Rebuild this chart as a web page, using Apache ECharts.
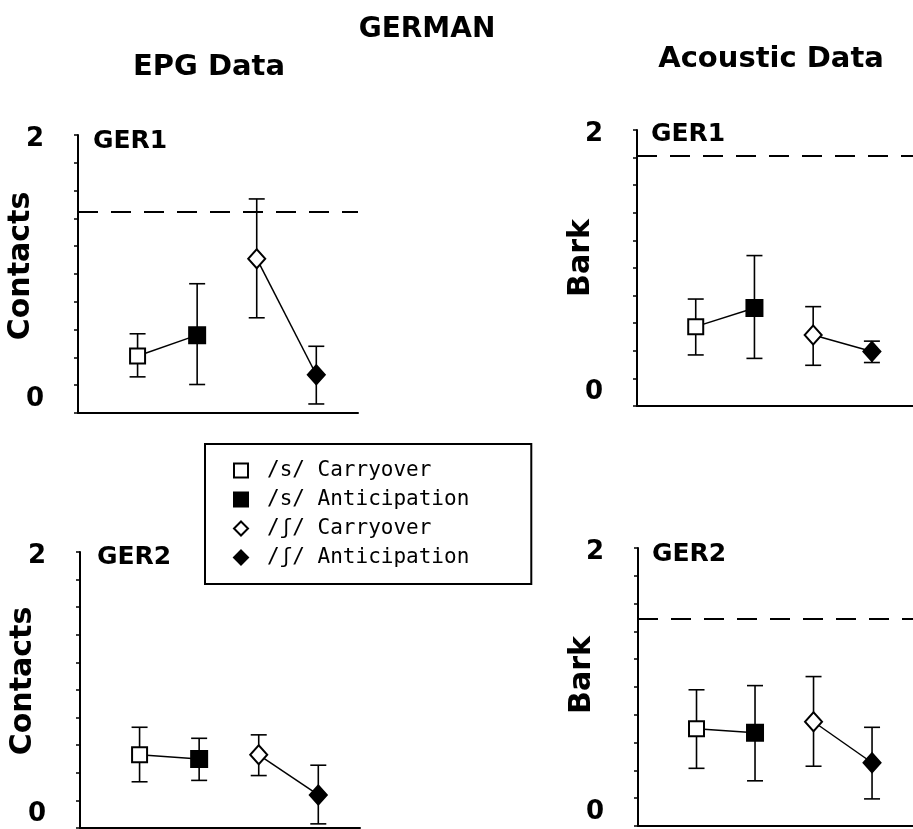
<!DOCTYPE html>
<html><head><meta charset="utf-8">
<script src="https://cdn.jsdelivr.net/npm/echarts@6/dist/echarts.min.js"></script>
<style>html,body{margin:0;padding:0;background:#fff}#c{width:913px;height:829px}</style>
</head><body><div id="c"></div>
<script>
// ---- data ----
const panels = ['EPG GER1', 'Acoustic GER1', 'EPG GER2', 'Acoustic GER2'];
const panelLabels = ['GER1', 'GER1', 'GER2', 'GER2'];
const yNames = ['Contacts', 'Bark', 'Contacts', 'Bark'];
const conditions = ['/s/ Carryover', '/s/ Anticipation', '/ʃ/ Carryover', '/ʃ/ Anticipation'];
const conditionX = [1, 2, 3, 4];
const yTickLabels = ['0', '2'];
// values per panel (EPG GER1, Acoustic GER1, EPG GER2, Acoustic GER2)
const sCarryMean  = [0.41, 0.575, 0.53, 0.70];
const sCarryLow   = [0.26, 0.37, 0.335, 0.415];
const sCarryHigh  = [0.57, 0.775, 0.73, 0.98];
const sAnticMean  = [0.56, 0.71, 0.50, 0.67];
const sAnticLow   = [0.205, 0.345, 0.345, 0.325];
const sAnticHigh  = [0.93, 1.09, 0.65, 1.01];
const shCarryMean = [1.11, 0.515, 0.53, 0.75];
const shCarryLow  = [0.685, 0.295, 0.38, 0.43];
const shCarryHigh = [1.54, 0.72, 0.675, 1.075];
const shAnticMean = [0.275, 0.395, 0.24, 0.455];
const shAnticLow  = [0.065, 0.315, 0.03, 0.195];
const shAnticHigh = [0.48, 0.47, 0.455, 0.71];
const referenceLevel = [1.45, 1.81, null, 1.49];

// ---- styling ----
const means = [sCarryMean, sAnticMean, shCarryMean, shAnticMean];
const lows = [sCarryLow, sAnticLow, shCarryLow, shAnticLow];
const highs = [sCarryHigh, sAnticHigh, shCarryHigh, shAnticHigh];
const symbols = ['rect', 'rect', 'diamond', 'diamond'];
const symSizes = [15, 16, [17, 19], [17, 19]];
const fills = ['#fff', '#000', '#fff', '#000'];
const FONT = 'DejaVu Sans';

const grids = [
  {left: 78, top: 135, width: 280, height: 278},
  {left: 637, top: 130, width: 276, height: 276},
  {left: 80, top: 552, width: 280, height: 276},
  {left: 638, top: 548, width: 275, height: 278}
];
const nameShift = [16, 20, 18, 24];
const nameGaps = [42, 41, 42, 41];

const xAxes = [], yAxes = [], series = [];
grids.forEach((g, p) => {
  g.outerBoundsMode = 'none';
  g.containLabel = false;
  xAxes.push({
    gridIndex: p, type: 'value', min: 0, max: 4.7,
    axisLine: {lineStyle: {color: '#000', width: 2}},
    axisTick: {show: false}, axisLabel: {show: false}, splitLine: {show: false}
  });
  yAxes.push({
    gridIndex: p, type: 'value', min: 0, max: 2, interval: 0.2,
    name: yNames[p], nameLocation: 'middle', nameGap: nameGaps[p], nameRotate: 90,
    nameMoveOverlap: false,
    nameTextStyle: {fontFamily: FONT, fontWeight: 'bold', fontSize: 30, color: '#000', padding: [0, 0, 0, nameShift[p]]},
    axisLine: {show: true, lineStyle: {color: '#000', width: 2}},
    axisTick: {show: true, length: 4, lineStyle: {color: '#000', width: 1.5}},
    splitLine: {show: false},
    axisLabel: {
      margin: 34,
      formatter: v => Math.abs(v) < 1e-9 ? '{b|' + yTickLabels[0] + '}' : (Math.abs(v - 2) < 1e-9 ? '{a|' + yTickLabels[1] + '}' : ''),
      rich: {
        a: {fontFamily: FONT, fontWeight: 'bold', fontSize: 26, color: '#000', padding: [8, 0, 0, 0]},
        b: {fontFamily: FONT, fontWeight: 'bold', fontSize: 26, color: '#000', padding: [0, 0, 28, 0]}
      }
    }
  });
  // error bars
  series.push({
    type: 'custom', name: 'err' + p, xAxisIndex: p, yAxisIndex: p, z: 2,
    encode: {x: 0, y: [1, 2]},
    data: conditionX.map((x, c) => [x, lows[c][p], highs[c][p]]),
    renderItem: (params, api) => {
      const x = api.value(0);
      const top = api.coord([x, api.value(2)]);
      const bot = api.coord([x, api.value(1)]);
      const w = 8, st = {stroke: '#000', lineWidth: 1.6};
      return {type: 'group', children: [
        {type: 'line', shape: {x1: top[0], y1: top[1], x2: bot[0], y2: bot[1]}, style: st},
        {type: 'line', shape: {x1: top[0] - w, y1: top[1], x2: top[0] + w, y2: top[1]}, style: st},
        {type: 'line', shape: {x1: bot[0] - w, y1: bot[1], x2: bot[0] + w, y2: bot[1]}, style: st}
      ]};
    }
  });
  // connecting lines: /s/ pair and /ʃ/ pair
  [[0, 1], [2, 3]].forEach(([a, b]) => {
    const s = {
      type: 'line', name: 'link' + p + a, xAxisIndex: p, yAxisIndex: p, z: 3,
      symbol: 'none', silent: true,
      lineStyle: {color: '#000', width: 1.5},
      data: [[conditionX[a], means[a][p]], [conditionX[b], means[b][p]]]
    };
    if (a === 0 && referenceLevel[p] != null) {
      s.markLine = {
        symbol: 'none', silent: true, label: {show: false},
        lineStyle: {color: '#000', width: 2, type: [20, 13]},
        data: [{yAxis: referenceLevel[p]}]
      };
    }
    series.push(s);
  });
  // markers
  conditions.forEach((name, c) => {
    series.push({
      type: 'scatter', name: name, xAxisIndex: p, yAxisIndex: p, z: 5,
      symbol: symbols[c], symbolSize: symSizes[c],
      itemStyle: {color: fills[c], borderColor: '#000', borderWidth: 2, opacity: 1},
      data: [[conditionX[c], means[c][p]]]
    });
  });
});

const titleText = (text, x, y, size) => ({
  type: 'text', x: x, y: y,
  style: {text: text, fontFamily: FONT, fontWeight: 'bold', fontSize: size, fill: '#000', align: 'center', verticalAlign: 'middle'}
});
const panelTitlePos = [[130, 141], [688, 134], [134, 557], [689, 554]];

const option = {
  backgroundColor: '#fff',
  animation: false,
  grid: grids,
  xAxis: xAxes,
  yAxis: yAxes,
  legend: {
    orient: 'vertical', left: 205, top: 444,
    padding: [16, 62, 16, 28], itemGap: 8,
    borderColor: '#000', borderWidth: 2,
    itemWidth: 14, itemHeight: 14,
    selectedMode: false,
    textStyle: {fontFamily: 'DejaVu Sans Mono', fontSize: 21, color: '#000', padding: [0, 0, 0, 14]},
    data: conditions.map((n, c) => ({
      name: n, icon: symbols[c],
      itemStyle: {color: fills[c], borderColor: '#000', borderWidth: 2}
    }))
  },
  graphic: [
    titleText('GERMAN', 427, 30, 28),
    titleText('EPG Data', 209, 67, 29),
    titleText('Acoustic Data', 771, 59, 29)
  ].concat(panelLabels.map((t, p) => titleText(t, panelTitlePos[p][0], panelTitlePos[p][1], 25))),
  series: series
};
const chart = echarts.init(document.getElementById('c'), null, {renderer: 'canvas'});
chart.setOption(option);
</script></body></html>
